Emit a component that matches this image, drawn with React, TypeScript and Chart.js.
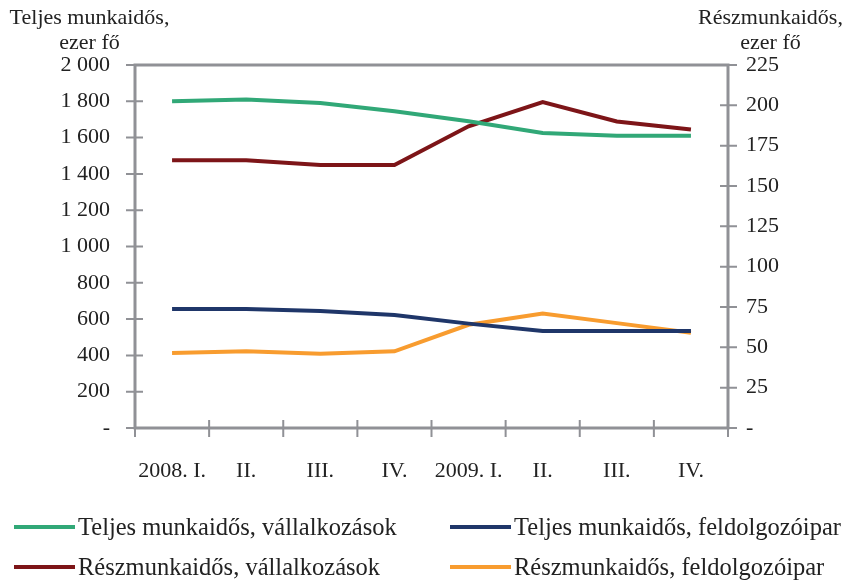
import React, { useEffect, useRef } from "react";
import { Chart, registerables } from "chart.js";

Chart.register(...registerables);

const categories = ["2008. I.", "II.", "III.", "IV.", "2009. I.", "II.", "III.", "IV."];
const fullTimeBusiness = [1800, 1810, 1790, 1745, 1690, 1625, 1610, 1610];
const fullTimeManufacturing = [655, 655, 645, 622, 575, 535, 535, 535];
const partTimeBusiness = [166, 166, 163, 163, 187, 202, 190, 185];
const partTimeManufacturing = [46.5, 47.5, 46, 47.5, 64, 71, 65, 59];

const seriesLabels = [
  "Teljes munkaidős, vállalkozások",
  "Teljes munkaidős, feldolgozóipar",
  "Részmunkaidős, vállalkozások",
  "Részmunkaidős, feldolgozóipar",
];
const seriesColors = ["#31a877", "#1f3669", "#7d1518", "#f89c2f"];

const leftTitle = ["Teljes munkaidős,", "ezer fő"];
const rightTitle = ["Részmunkaidős,", "ezer fő"];

const FONT = "'Liberation Serif', 'DejaVu Serif', serif";
const AXIS_COLOR = "#909196";
const TEXT_COLOR = "#222222";

const fmtThousands = (v: number) =>
  v === 0 ? "-" : String(v).replace(/\B(?=(\d{3})+(?!\d))/g, " ");

const frameAxes = {
  id: "frameAxes",
  afterDatasetsDraw(chart: any) {
    const { ctx, chartArea } = chart;
    const { left, right, top, bottom } = chartArea;
    const yL = chart.scales.y;
    const yR = chart.scales.y1;
    const n = categories.length;
    ctx.save();
    ctx.strokeStyle = AXIS_COLOR;
    ctx.lineWidth = 3;
    ctx.lineCap = "butt";
    ctx.beginPath();
    ctx.moveTo(left, bottom);
    ctx.lineTo(left, top);
    ctx.lineTo(right, top);
    ctx.lineTo(right, bottom);
    ctx.lineTo(left, bottom);
    ctx.closePath();
    ctx.stroke();
    ctx.lineWidth = 2;
    ctx.beginPath();
    yL.ticks.forEach((t: any) => {
      const y = yL.getPixelForValue(t.value);
      ctx.moveTo(left - 9, y);
      ctx.lineTo(left + 8, y);
    });
    yR.ticks.forEach((t: any) => {
      const y = yR.getPixelForValue(t.value);
      ctx.moveTo(right - 8, y);
      ctx.lineTo(right + 9, y);
    });
    for (let i = 0; i <= n; i++) {
      const x = left + ((right - left) * i) / n;
      ctx.moveTo(x, bottom - 8);
      ctx.lineTo(x, bottom + 9);
    }
    ctx.stroke();
    ctx.restore();
  },
};

export default function App() {
  const canvasRef = useRef<HTMLCanvasElement | null>(null);

  useEffect(() => {
    if (!canvasRef.current) return;
    const chart = new Chart(canvasRef.current, {
      type: "line",
      data: {
        labels: categories,
        datasets: [
          { label: seriesLabels[0], data: fullTimeBusiness, yAxisID: "y", borderColor: seriesColors[0] },
          { label: seriesLabels[1], data: fullTimeManufacturing, yAxisID: "y", borderColor: seriesColors[1] },
          { label: seriesLabels[2], data: partTimeBusiness, yAxisID: "y1", borderColor: seriesColors[2] },
          { label: seriesLabels[3], data: partTimeManufacturing, yAxisID: "y1", borderColor: seriesColors[3] },
        ].map((d) => ({ ...d, borderWidth: 4, pointRadius: 0, tension: 0, fill: false })),
      },
      options: {
        animation: false,
        responsive: true,
        maintainAspectRatio: false,
        layout: { padding: { top: 65, left: 0, right: 0, bottom: 0 } },
        plugins: { legend: { display: false }, tooltip: { enabled: false } },
        scales: {
          x: {
            offset: true,
            grid: { display: false, drawTicks: false },
            border: { display: false },
            ticks: {
              padding: 30,
              color: TEXT_COLOR,
              font: { family: FONT, size: 22 },
              maxRotation: 0,
              autoSkip: false,
            },
            afterFit: (s: any) => {
              s.height = 155;
            },
          },
          y: {
            position: "left",
            min: 0,
            max: 2000,
            grid: { display: false, drawTicks: false },
            border: { display: false },
            ticks: {
              stepSize: 200,
              padding: 25,
              color: TEXT_COLOR,
              font: { family: FONT, size: 22 },
              callback: (v: any) => fmtThousands(Number(v)),
            },
            afterFit: (s: any) => {
              s.width = 135;
            },
          },
          y1: {
            position: "right",
            min: 0,
            max: 225,
            grid: { display: false, drawTicks: false },
            border: { display: false },
            ticks: {
              stepSize: 25,
              padding: 18,
              color: TEXT_COLOR,
              font: { family: FONT, size: 22 },
              callback: (v: any) => (Number(v) === 0 ? "-" : String(v)),
            },
            afterFit: (s: any) => {
              s.width = 132;
            },
          },
        },
      },
      plugins: [frameAxes],
    });
    return () => chart.destroy();
  }, []);

  const textStyle: React.CSSProperties = {
    fontFamily: FONT,
    fontSize: 22,
    color: TEXT_COLOR,
    lineHeight: "25px",
    whiteSpace: "nowrap",
  };

  const legendItem = (i: number, left: number, top: number) => (
    <div
      key={i}
      style={{
        position: "absolute",
        left,
        top,
        display: "flex",
        alignItems: "center",
        ...textStyle,
        fontSize: 24.5,
        lineHeight: "28px",
      }}
    >
      <span
        style={{ display: "inline-block", width: 61, height: 4, background: seriesColors[i], marginRight: 3 }}
      />
      <span>{seriesLabels[i]}</span>
    </div>
  );

  return (
    <div style={{ position: "absolute", left: 0, top: 0, width: 860, height: 583, background: "#fff" }}>
      <div style={{ position: "absolute", left: 0, top: 0, width: 860, height: 583 }}>
        <canvas ref={canvasRef} />
      </div>
      <div style={{ position: "absolute", left: 2, top: 4, width: 175, textAlign: "center", ...textStyle }}>
        {leftTitle.map((t) => (
          <div key={t}>{t}</div>
        ))}
      </div>
      <div style={{ position: "absolute", left: 683, top: 4, width: 175, textAlign: "center", ...textStyle }}>
        {rightTitle.map((t) => (
          <div key={t}>{t}</div>
        ))}
      </div>
      {legendItem(0, 14, 513)}
      {legendItem(1, 450, 513)}
      {legendItem(2, 14, 553)}
      {legendItem(3, 450, 553)}
    </div>
  );
}
